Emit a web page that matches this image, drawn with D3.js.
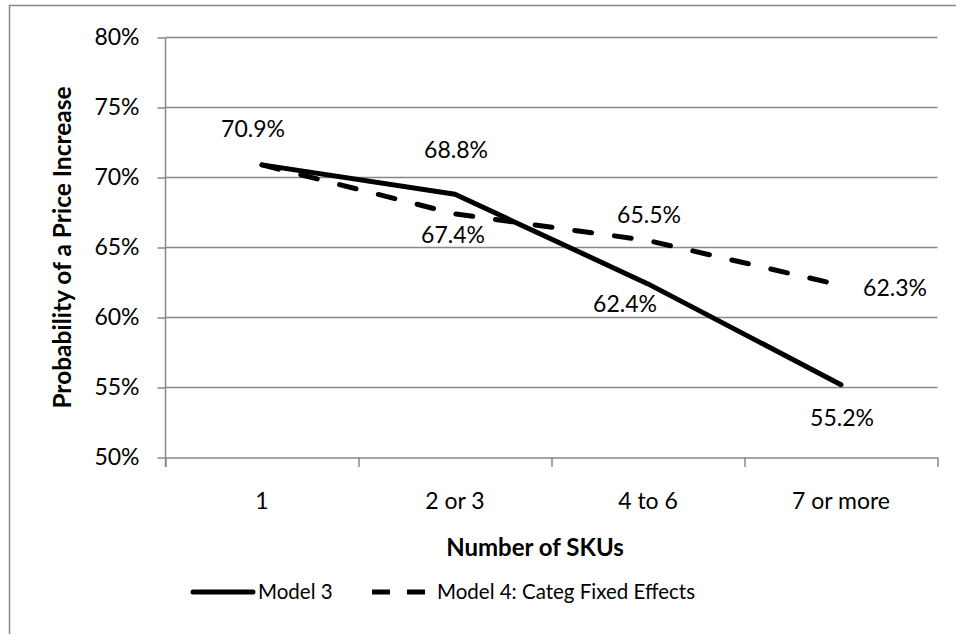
<!DOCTYPE html>
<html>
<head>
<meta charset="utf-8">
<script src="https://cdn.jsdelivr.net/npm/d3@7"></script>
<style>
    body { margin: 0; background: #fff; }
    svg { display: block; font-family: Lato, "Open Sans", sans-serif; }
    .grid line { stroke: #888; stroke-width: 1.5px; }
    .axis path, .axis line { stroke: #888; stroke-width: 1.5px; }
    .axis text { fill: #000; }
</style>
</head>
<body>
<svg id="chart" width="956" height="634"></svg>
<script>
/*
    Probability of a price increase by number of SKUs
*/

var categories = ["1", "2 or 3", "4 to 6", "7 or more"];
var model3 = [70.9, 68.8, 62.4, 55.2];
var model4 = [70.9, 67.4, 65.5, 62.3];
var yTicks = [50, 55, 60, 65, 70, 75, 80];
var seriesNames = ["Model 3", "Model 4: Categ Fixed Effects"];

// where each data label sits relative to its point (dx, dy); null = not shown
var labelOffset3 = [[-9, -36], [1, -44], [-23, 20], [1, 33]];
var labelOffset4 = [null, [-2, 21], [1, -26], [54, 3]];

var svg = d3.select("#chart");

var plot = {left: 165.5, right: 937.5, top: 37.5, bottom: 457.5};

var x = d3.scaleBand()
    .domain(categories)
    .range([plot.left, plot.right])
    .padding(0);

var xEdge = d3.scaleLinear()
    .domain([0, categories.length])
    .range([plot.left, plot.right]);

var y = d3.scaleLinear()
    .domain([50, 80])
    .range([plot.bottom, plot.top]);

function cx(d, i) { return x(categories[i]) + x.bandwidth() / 2; }

// chart border
svg.append("rect")
    .attr("x", 9.5).attr("y", 5.5)
    .attr("width", 1000).attr("height", 700)
    .attr("fill", "none")
    .attr("stroke", "#888")
    .attr("stroke-width", 1.5);

// gridlines
svg.append("g").attr("class", "grid")
    .selectAll("line")
    .data(yTicks.filter(function(t) { return t > 50; }))
    .enter().append("line")
        .attr("x1", plot.left).attr("x2", plot.right)
        .attr("y1", function(d) { return y(d); })
        .attr("y2", function(d) { return y(d); });

// y axis
var yAxis = svg.append("g")
    .attr("class", "axis")
    .attr("transform", "translate(" + plot.left + ",0)")
    .call(d3.axisLeft(y)
        .tickValues(yTicks)
        .tickSize(8)
        .tickSizeOuter(0)
        .tickPadding(18)
        .tickFormat(function(d) { return d + "%"; }));
yAxis.selectAll("text").attr("font-size", 23).attr("font-family", "Lato");
yAxis.select(".domain").attr("d", "M0," + plot.top + "V" + (plot.bottom + 9.5));

// x axis: ticks on category boundaries
var xAxis = svg.append("g")
    .attr("class", "axis")
    .attr("transform", "translate(0," + plot.bottom + ")")
    .call(d3.axisBottom(xEdge)
        .tickValues(d3.range(categories.length + 1))
        .tickSize(9.5)
        .tickSizeOuter(0)
        .tickFormat(""));

// x axis labels at category centres
var xLabels = svg.append("g")
    .attr("class", "axis")
    .attr("transform", "translate(0," + plot.bottom + ")")
    .call(d3.axisBottom(x).tickSize(0).tickPadding(35));
xLabels.select(".domain").remove();
xLabels.selectAll("text").attr("font-size", 23).attr("font-family", "Lato");

// axis titles
svg.append("text")
    .attr("x", 535).attr("y", 548)
    .attr("dy", "0.35em")
    .attr("text-anchor", "middle")
    .attr("font-size", 24)
    .attr("font-weight", "bold")
    .text("Number of SKUs");

svg.append("text")
    .attr("transform", "translate(62," + ((plot.top + plot.bottom) / 2) + ") rotate(-90)")
    .attr("dy", "0.35em")
    .attr("text-anchor", "middle")
    .attr("font-size", 24.5)
    .attr("font-weight", "bold")
    .text("Probability of a Price Increase");

// lines
var line = d3.line()
    .x(cx)
    .y(function(d) { return y(d); });

svg.append("path")
    .datum(model3)
    .attr("d", line)
    .attr("fill", "none")
    .attr("stroke", "#000")
    .attr("stroke-width", 5)
    .attr("stroke-linecap", "round")
    .attr("stroke-linejoin", "round");

svg.append("path")
    .datum(model4)
    .attr("d", line)
    .attr("fill", "none")
    .attr("stroke", "#000")
    .attr("stroke-width", 5)
    .attr("stroke-dasharray", "17 23")
    .attr("stroke-linecap", "round")
    .attr("stroke-linejoin", "round");

// data labels
function drawLabels(values, offsets) {
    svg.append("g")
        .selectAll("text")
        .data(values.map(function(v, i) { return {v: v, i: i, o: offsets[i]}; })
            .filter(function(d) { return d.o; }))
        .enter().append("text")
            .attr("x", function(d) { return cx(d.v, d.i) + d.o[0]; })
            .attr("y", function(d) { return y(d.v) + d.o[1]; })
            .attr("dy", "0.35em")
            .attr("text-anchor", "middle")
            .attr("font-size", 23)
            .text(function(d) { return d3.format(".1f")(d.v) + "%"; });
}
drawLabels(model3, labelOffset3);
drawLabels(model4, labelOffset4);

// legend
var legend = svg.append("g").attr("transform", "translate(0,592)");
var legendItems = [
    {name: seriesNames[0], x1: 193, x2: 253, dash: null},
    {name: seriesNames[1], x1: 372, x2: 425, dash: "18 17"}
];
legendItems.forEach(function(d) {
    legend.append("line")
        .attr("x1", d.x1).attr("x2", d.x2)
        .attr("stroke", "#000")
        .attr("stroke-width", 5)
        .attr("stroke-linecap", d.dash ? "butt" : "round")
        .attr("stroke-dasharray", d.dash);
    legend.append("text")
        .attr("x", d.x2 + (d.dash ? 12 : 5))
        .attr("dy", "0.35em")
        .attr("font-size", 20.5)
        .text(d.name);
});
</script>
</body>
</html>
